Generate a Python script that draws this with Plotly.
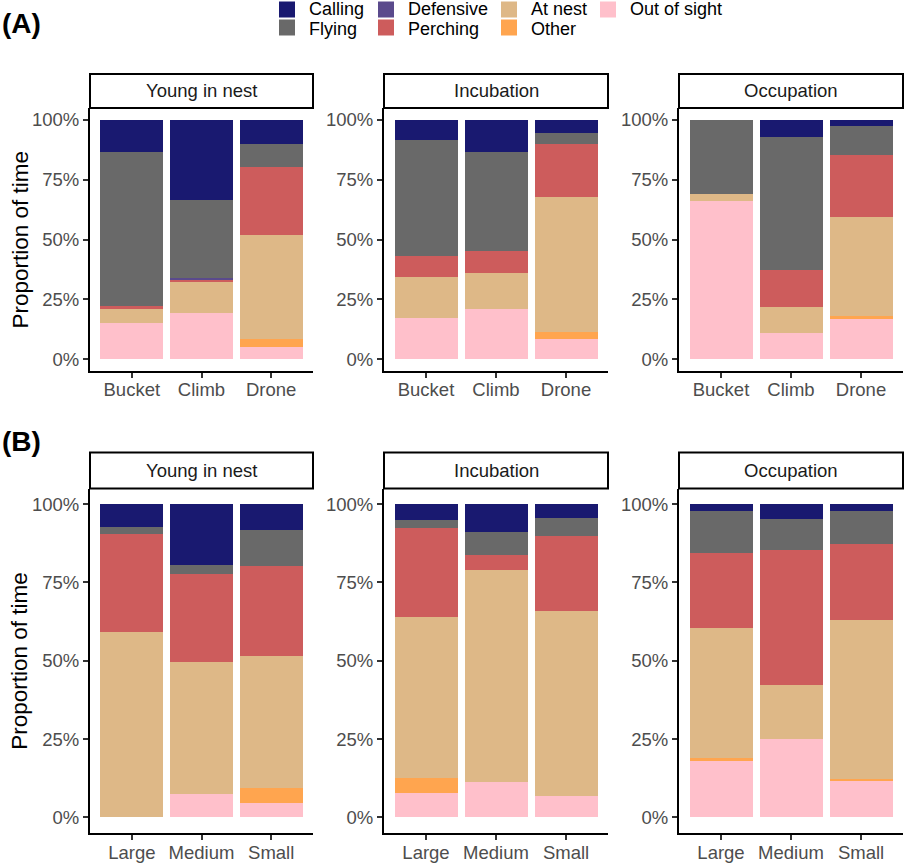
import plotly.graph_objects as go

# ---------------- data (percent of time) ----------------
behaviours = ["Calling", "Flying", "Defensive", "Perching", "At nest", "Other", "Out of sight"]
colours = ["#191970", "#696969", "#5A4A8C", "#CD5C5C", "#DEB887", "#FFA54F", "#FFC0CB"]
stages = ["Young in nest", "Incubation", "Occupation"]
methods = ["Bucket", "Climb", "Drone"]
sizes = ["Large", "Medium", "Small"]
y_ticks = [0, 25, 50, 75, 100]
y_tick_labels = ["0%", "25%", "50%", "75%", "100%"]

# Panel (A): access method; each list -> [Calling, Flying, Defensive, Perching, At nest, Other, Out of sight]
a_young_bucket = [13.6, 64.4, 0.0, 0.8, 6.0, 0.0, 15.2]
a_young_climb = [33.6, 32.5, 0.6, 0.8, 13.3, 0.0, 19.2]
a_young_drone = [10.1, 9.5, 0.0, 28.6, 43.5, 3.4, 4.9]
a_incub_bucket = [8.3, 48.7, 0.0, 8.7, 17.2, 0.0, 17.1]
a_incub_climb = [13.3, 41.7, 0.0, 9.1, 15.0, 0.0, 20.9]
a_incub_drone = [5.6, 4.5, 0.0, 22.0, 56.7, 2.8, 8.4]
a_occup_bucket = [0.0, 31.0, 0.0, 0.0, 3.0, 0.0, 66.0]
a_occup_climb = [7.0, 55.6, 0.0, 15.7, 10.9, 0.0, 10.8]
a_occup_drone = [2.5, 12.1, 0.0, 25.9, 41.7, 0.7, 17.1]

# Panel (B): colony size
b_young_large = [7.2, 2.4, 0.0, 31.2, 59.2, 0.0, 0.0]
b_young_medium = [19.3, 3.1, 0.0, 28.0, 42.1, 0.0, 7.5]
b_young_small = [8.1, 11.6, 0.0, 28.8, 42.2, 4.7, 4.6]
b_incub_large = [4.9, 2.6, 0.0, 28.4, 51.4, 4.9, 7.8]
b_incub_medium = [8.8, 7.3, 0.0, 5.0, 67.6, 0.0, 11.3]
b_incub_small = [4.3, 6.0, 0.0, 23.8, 59.0, 0.0, 6.9]
b_occup_large = [2.1, 13.5, 0.0, 24.0, 41.3, 1.2, 17.9]
b_occup_medium = [4.7, 9.8, 0.0, 43.1, 17.5, 0.0, 24.9]
b_occup_small = [2.1, 10.5, 0.0, 24.3, 50.8, 0.3, 12.0]

panels = [
    (methods, [a_young_bucket, a_young_climb, a_young_drone]),
    (methods, [a_incub_bucket, a_incub_climb, a_incub_drone]),
    (methods, [a_occup_bucket, a_occup_climb, a_occup_drone]),
    (sizes, [b_young_large, b_young_medium, b_young_small]),
    (sizes, [b_incub_large, b_incub_medium, b_incub_small]),
    (sizes, [b_occup_large, b_occup_medium, b_occup_small]),
]

# ---------------- layout geometry ----------------
W, H = 906, 865
FONT = "Liberation Sans, Arial, sans-serif"
xdom = [[90 / W, 313 / W], [384 / W, 608 / W], [679 / W, 903 / W]]
ydom = [[1 - 371 / H, 1 - 108 / H], [1 - 833 / H, 1 - 488.5 / H]]
strip_px = [34, 36]
xlabel_standoff = [-4, -3]

fig = go.Figure()

for k, (cats, bars) in enumerate(panels):
    idx = k + 1
    xa = "x" if idx == 1 else f"x{idx}"
    ya = "y" if idx == 1 else f"y{idx}"
    # stack bottom-up: Out of sight first
    for b in reversed(range(len(behaviours))):
        fig.add_trace(go.Bar(
            x=cats,
            y=[bar[b] for bar in bars],
            name=behaviours[b],
            marker=dict(color=colours[b], line=dict(width=0)),
            width=0.9,
            xaxis=xa, yaxis=ya,
            showlegend=False,
        ))

layout = dict(
    width=W, height=H,
    margin=dict(l=0, r=0, t=0, b=0),
    paper_bgcolor="white", plot_bgcolor="white",
    barmode="stack",
    font=dict(family=FONT, size=18, color="#4D4D4D"),
    showlegend=False,
)

shapes = []
annotations = []
for k in range(6):
    r, c = divmod(k, 3)
    idx = k + 1
    sx = "" if idx == 1 else str(idx)
    layout[f"xaxis{sx}"] = dict(
        domain=xdom[c], anchor=f"y{sx}", range=[-0.6, 2.6],
        showline=True, linecolor="black", linewidth=2,
        ticks="outside", ticklen=5, tickwidth=1.5, tickcolor="#333333",
        ticklabelstandoff=xlabel_standoff[r],
        tickfont=dict(family=FONT, size=18.5, color="#4D4D4D"),
        showgrid=False, zeroline=False, fixedrange=True,
    )
    layout[f"yaxis{sx}"] = dict(
        domain=ydom[r], anchor=f"x{sx}", range=[-5, 105],
        tickvals=y_ticks, ticktext=y_tick_labels,
        showline=True, linecolor="black", linewidth=2,
        ticks="outside", ticklen=5, tickwidth=1.5, tickcolor="#333333",
        tickfont=dict(family=FONT, size=18.5, color="#4D4D4D"),
        showgrid=False, zeroline=False, fixedrange=True,
    )
    top = ydom[r][1]
    shapes.append(dict(
        type="rect", xref="paper", yref="paper",
        x0=xdom[c][0], x1=xdom[c][1], y0=top, y1=top + strip_px[r] / H,
        line=dict(color="black", width=2), fillcolor="white", layer="above",
    ))
    annotations.append(dict(
        text=stages[c], xref="paper", yref="paper",
        x=(xdom[c][0] + xdom[c][1]) / 2, y=top + strip_px[r] / (2 * H),
        showarrow=False, xanchor="center", yanchor="middle",
        font=dict(family=FONT, size=18.5, color="#1A1A1A"),
    ))

# y-axis titles
for r in range(2):
    annotations.append(dict(
        text="Proportion of time", xref="paper", yref="paper",
        x=20 / W, y=(ydom[r][0] + ydom[r][1]) / 2, textangle=-90,
        showarrow=False, xanchor="center", yanchor="middle",
        font=dict(family=FONT, size=22.5, color="black"),
    ))

# panel tags
annotations.append(dict(text="<b>(A)</b>", xref="paper", yref="paper", x=0, y=1 - 24 / H,
                        showarrow=False, xanchor="left", yanchor="middle",
                        font=dict(family=FONT, size=28, color="black")))
annotations.append(dict(text="<b>(B)</b>", xref="paper", yref="paper", x=0, y=1 - 441 / H,
                        showarrow=False, xanchor="left", yanchor="middle",
                        font=dict(family=FONT, size=28, color="black")))

# legend (2 rows, filled by column like the original)
leg_sq_x = [279, 378, 501, 600]
leg_sq_y = [9.5, 27.5]
leg_txt_y = [9, 29.5]
for i, (name, col) in enumerate(zip(behaviours, colours)):
    cidx, ridx = divmod(i, 2)
    x0 = leg_sq_x[cidx]
    ys = leg_sq_y[ridx]
    shapes.append(dict(
        type="rect", xref="paper", yref="paper",
        x0=x0 / W, x1=(x0 + 16) / W, y0=1 - (ys + 8) / H, y1=1 - (ys - 8) / H,
        line=dict(width=0), fillcolor=col,
    ))
    annotations.append(dict(
        text=name, xref="paper", yref="paper",
        x=(x0 + 28) / W, y=1 - leg_txt_y[ridx] / H, showarrow=False,
        xanchor="left", yanchor="middle",
        font=dict(family=FONT, size=18, color="black"),
    ))

layout["shapes"] = shapes
layout["annotations"] = annotations
fig.update_layout(**layout)

fig.write_html("out.html", config={"displayModeBar": False},
               post_script="document.body.style.margin='0px';")
